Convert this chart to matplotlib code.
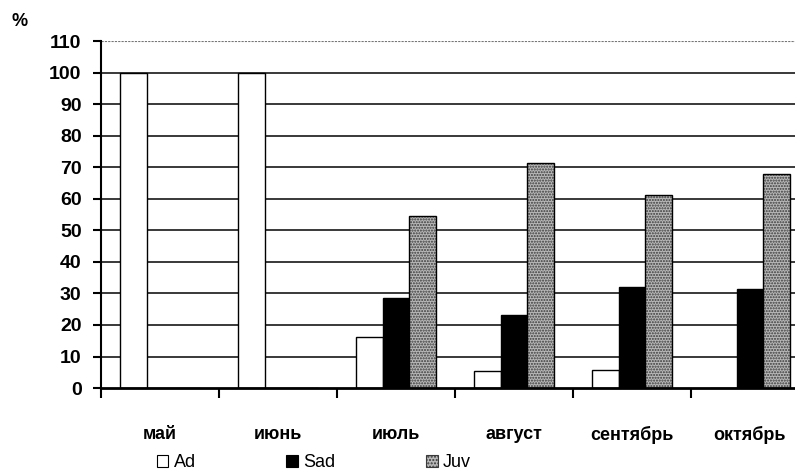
import numpy as np
import matplotlib
matplotlib.use('Agg')
import matplotlib.pyplot as plt
from matplotlib.patches import Patch

# data
months = ['май', 'июнь', 'июль', 'август', 'сентябрь', 'октябрь']
ad = [100, 100, 16.3, 5.4, 5.8, 0]
sad = [0, 0, 28.4, 23.2, 32.1, 31.5]
juv = [0, 0, 54.4, 71.5, 61.2, 68.0]
yticks = list(range(0, 111, 10))

plt.rcParams['font.family'] = ['Liberation Sans', 'DejaVu Sans']

fig = plt.figure(figsize=(7.95, 4.75), dpi=100)
ax = fig.add_axes([0.127, 0.183, 0.8906, 0.7305])

x = np.arange(len(months))
w = 0.225

# gridlines (top one is lighter/dotted)
for v in yticks[1:]:
    if v == yticks[-1]:
        ax.axhline(v, color='#777777', lw=0.8, ls=(0, (2, 1)), zorder=0)
    else:
        ax.axhline(v, color='#2a2a2a', lw=1.3, zorder=0)

ax.bar(x - w, ad, w, color='white', edgecolor='black', lw=1.0, zorder=2)
ax.bar(x, sad, w, color='black', edgecolor='black', lw=1.0, zorder=2)
# stippled grey bars
ax.bar(x + w, juv, w, color='#b8b8b8', edgecolor='#3a3a3a', hatch='......', lw=0, zorder=2)
ax.bar(x + w, juv, w, fill=False, edgecolor='black', lw=1.0, zorder=3)

ax.set_xlim(-0.5, len(months) - 0.5)
ax.set_ylim(0, 110)
ax.set_yticks(yticks)
ax.tick_params(axis='y', direction='out', length=6, width=1.5, pad=8, labelsize=14)
for lbl in ax.get_yticklabels():
    lbl.set_fontweight('bold')

ax.set_xticks(np.arange(len(months) + 1) - 0.5)
ax.set_xticklabels([])
ax.tick_params(axis='x', which='major', direction='out', length=7, width=1.5)
ax.set_xticks(x, minor=True)
ax.set_xticklabels(months, minor=True, fontsize=13, fontweight='bold')
ax.tick_params(axis='x', which='minor', length=0, pad=27)

for s in ['top', 'right']:
    ax.spines[s].set_visible(False)
ax.spines['left'].set_linewidth(1.5)
ax.spines['bottom'].set_linewidth(2)

fig.text(0.014, 0.955, '%', fontsize=13, fontweight='bold', ha='left', va='center')

handles = [
    Patch(facecolor='white', edgecolor='black', lw=0.8),
    Patch(facecolor='black', edgecolor='black', lw=0.8),
    Patch(facecolor='#b8b8b8', edgecolor='#3a3a3a', hatch='.....', lw=0.8),
]
fig.legend(handles, ['Ad', 'Sad', 'Juv'], ncol=3, frameon=False, fontsize=13,
           loc='center left', bbox_to_anchor=(0.188, 0.026),
           handlelength=0.65, handleheight=0.65, handletextpad=0.3,
           columnspacing=5.0, borderaxespad=0)

fig.savefig('out.png', dpi=100)
